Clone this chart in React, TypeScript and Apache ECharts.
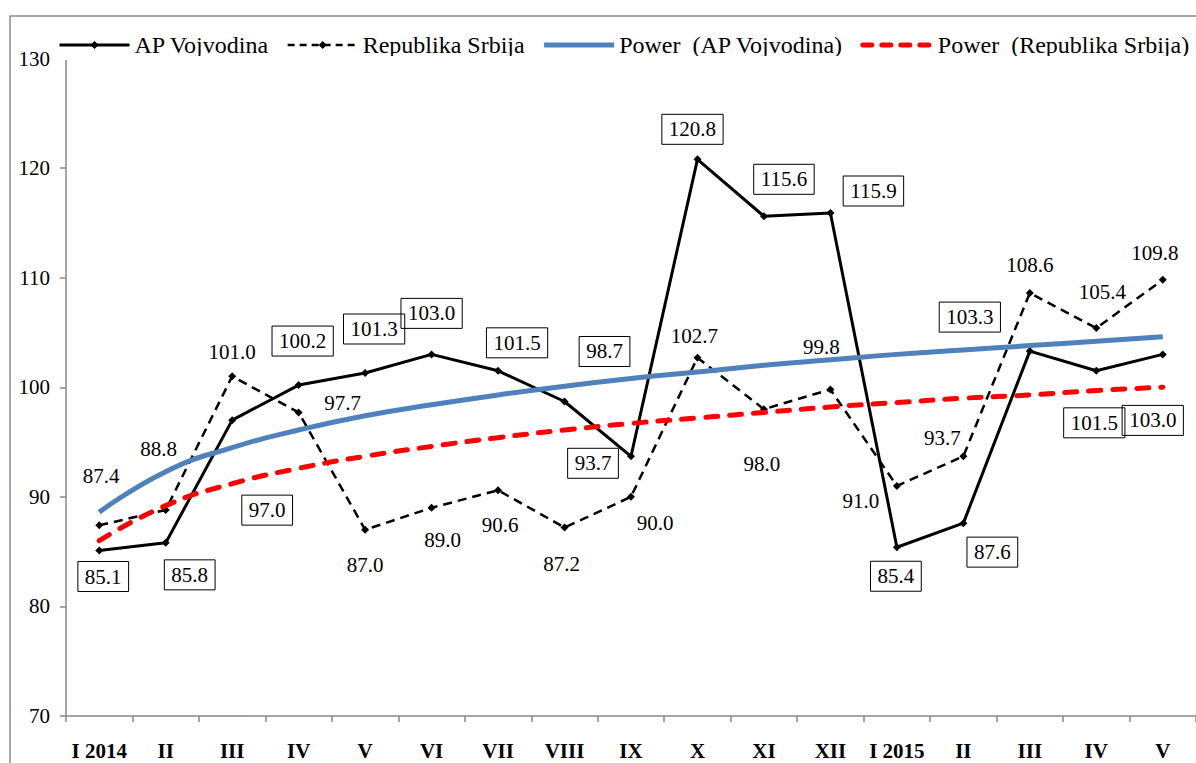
import React, { useEffect, useRef } from "react";
import * as echarts from "echarts";

const categories = ["I 2014", "II", "III", "IV", "V", "VI", "VII", "VIII", "IX", "X", "XI", "XII", "I 2015", "II", "III", "IV", "V"];
const apVojvodina = [85.1, 85.8, 97.0, 100.2, 101.3, 103.0, 101.5, 98.7, 93.7, 120.8, 115.6, 115.9, 85.4, 87.6, 103.3, 101.5, 103.0];
const republikaSrbija = [87.4, 88.8, 101.0, 97.7, 87.0, 89.0, 90.6, 87.2, 90.0, 102.7, 98.0, 99.8, 91.0, 93.7, 108.6, 105.4, 109.8];
// trend lines
const powerAp = [88.6, 92.3, 94.5, 96.1, 97.4, 98.4, 99.3, 100.1, 100.8, 101.4, 102.0, 102.5, 103.0, 103.4, 103.8, 104.2, 104.6];
const powerRs = [86.0, 89.2, 91.2, 92.6, 93.7, 94.6, 95.4, 96.1, 96.7, 97.2, 97.7, 98.2, 98.6, 99.0, 99.3, 99.7, 100.0];
const yTicks = { min: 70, max: 130, interval: 10 };

// label placement offsets (pixels) relative to each point
const apLabelOffsets: number[][] = [
  [4, 26], [24, 32], [35, 90], [4, -44], [9, -44], [0, -41], [19, -28], [40, -50], [-38, 7],
  [-5, -30], [20, -37], [43, -22], [-1, 29], [29, 29], [-60, -34], [-2, 52], [-10, 66],
];
const rsLabelOffsets: number[][] = [
  [2, -49], [-7, -61], [0, -24], [44, -9], [0, 35], [11, 32], [2, 35], [-3, 36], [24, 26],
  [-3, -22], [-2, 55], [-9, -42], [-36, 15], [-21, -18], [0, -28], [6, -36], [-8, -27],
];

const FONT = "'Liberation Serif', 'Times New Roman', serif";
const NAMES = ["AP Vojvodina", "Republika Srbija", "Power  (AP Vojvodina)", "Power  (Republika Srbija)"];

export default function App() {
  const ref = useRef<HTMLDivElement>(null);
  useEffect(() => {
    if (!ref.current) return;
    const chart = echarts.init(ref.current, null, { renderer: "svg" });
    const fmt = (p: any) => Number(p.value).toFixed(1);
    chart.setOption({
      animation: false,
      backgroundColor: "#fff",
      textStyle: { fontFamily: FONT },
      legend: {
        left: 53,
        top: 28,
        itemWidth: 70,
        itemHeight: 10,
        itemGap: 17,
        textStyle: { fontFamily: FONT, fontSize: 24, color: "#000" },
        data: [
          { name: NAMES[0], lineStyle: { width: 3 } },
          { name: NAMES[1], lineStyle: { width: 2.5, type: [7, 5] } },
          { name: NAMES[2], itemStyle: { opacity: 0 }, lineStyle: { width: 5 } },
          { name: NAMES[3], itemStyle: { opacity: 0 }, lineStyle: { width: 5, type: [9, 10], cap: "round" } },
        ],
      },
      graphic: [
        {
          type: "rect",
          silent: true,
          z: -10,
          shape: { x: 10, y: 16, width: 1400, height: 900 },
          style: { fill: "none", stroke: "#8c8c8c", lineWidth: 1.5 },
        },
        {
          type: "rect",
          silent: true,
          z: 100,
          shape: { x: 55, y: 56, width: 1150, height: 4 },
          style: { fill: "#fff" },
        },
      ],
      grid: { left: 66, right: -10, top: 58.5, bottom: 47, containLabel: false },
      xAxis: {
        type: "category",
        data: categories,
        boundaryGap: true,
        axisLine: { lineStyle: { color: "#888", width: 1.5 } },
        axisTick: { show: true, length: 6, interval: 0, lineStyle: { color: "#888", width: 1.5 } },
        axisLabel: { interval: 0, fontFamily: FONT, fontSize: 21, fontWeight: "bold", color: "#000", margin: 24 },
        splitLine: { show: false },
      },
      yAxis: {
        type: "value",
        min: yTicks.min,
        max: yTicks.max,
        interval: yTicks.interval,
        axisLine: { show: true, lineStyle: { color: "#888", width: 1.5 } },
        axisTick: { show: true, length: 6, lineStyle: { color: "#888", width: 1.5 } },
        axisLabel: { fontFamily: FONT, fontSize: 21, color: "#000", margin: 16 },
        splitLine: { show: false },
      },
      series: [
        {
          name: NAMES[0],
          type: "line",
          symbol: "diamond",
          symbolSize: 8,
          itemStyle: { color: "#000" },
          lineStyle: { color: "#000", width: 3 },
          data: apVojvodina.map((v, i) => ({ value: v, label: { offset: apLabelOffsets[i] } })),
          label: {
            show: true,
            position: "inside",
            formatter: fmt,
            fontFamily: FONT,
            fontSize: 21,
            color: "#000",
            borderColor: "#000",
            borderWidth: 1,
            padding: [5, 7, 3, 7],
            lineHeight: 22,
          },
          z: 3,
        },
        {
          name: NAMES[1],
          type: "line",
          symbol: "diamond",
          symbolSize: 8,
          itemStyle: { color: "#000" },
          lineStyle: { color: "#000", width: 2.5, type: [9, 6] },
          data: republikaSrbija.map((v, i) => ({ value: v, label: { offset: rsLabelOffsets[i] } })),
          label: {
            show: true,
            position: "inside",
            formatter: fmt,
            fontFamily: FONT,
            fontSize: 21,
            color: "#000",
          },
          z: 3,
        },
        {
          name: NAMES[2],
          type: "line",
          symbol: "none",
          smooth: true,
          itemStyle: { color: "#4F81BD" },
          lineStyle: { color: "#4F81BD", width: 5 },
          data: powerAp,
          z: 4,
        },
        {
          name: NAMES[3],
          type: "line",
          symbol: "none",
          smooth: true,
          itemStyle: { color: "#FF0000" },
          lineStyle: { color: "#FF0000", width: 5, type: [12, 12], cap: "round" },
          data: powerRs,
          z: 4,
        },
      ],
    });
    return () => chart.dispose();
  }, []);
  return (
    <div
      ref={ref}
      style={{ position: "absolute", left: 0, top: 0, width: 1196, height: 763 }}
    />
  );
}
